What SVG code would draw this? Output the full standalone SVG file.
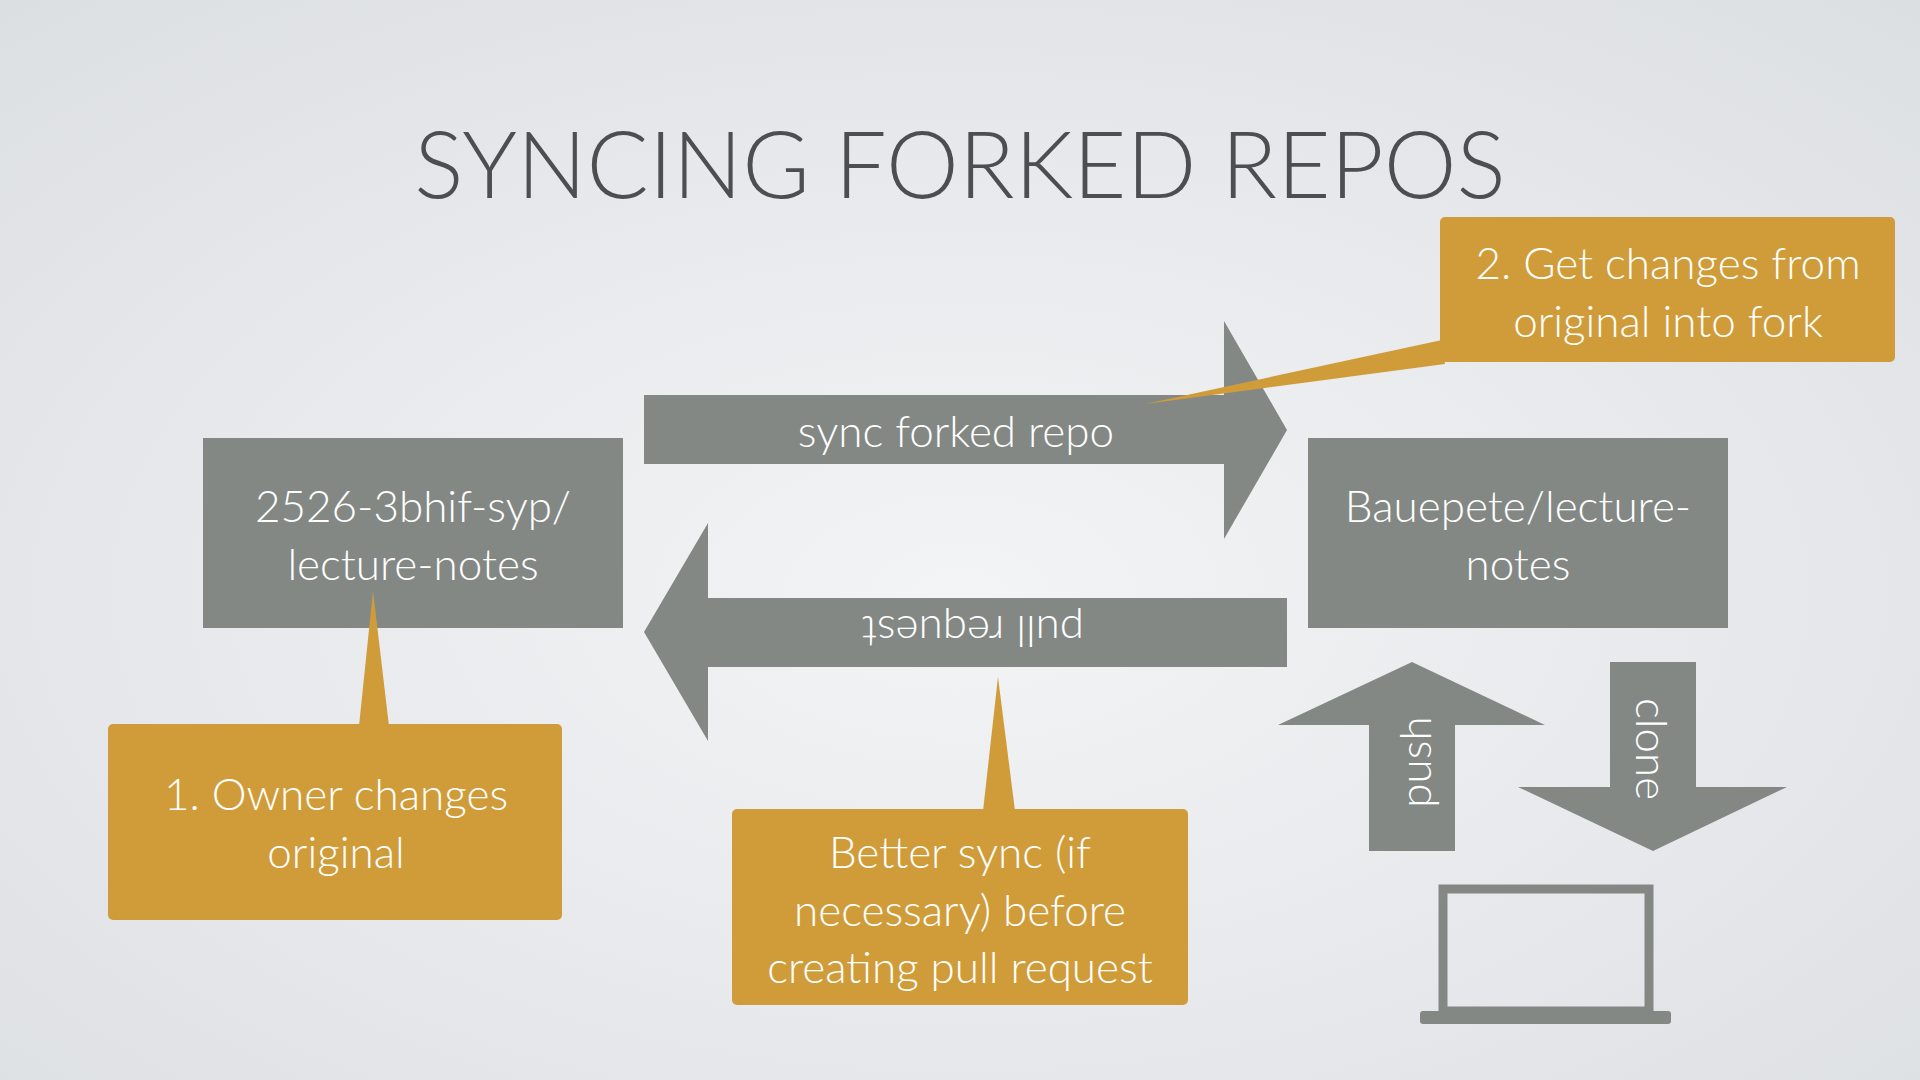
<svg xmlns="http://www.w3.org/2000/svg" width="1920" height="1080" viewBox="0 0 1920 1080">
<defs>
<radialGradient id="bg" cx="50%" cy="55%" r="75%">
<stop offset="0" stop-color="#f3f4f6"/><stop offset="1" stop-color="#dcdfe2"/>
</radialGradient>
<style>
.g{fill:#838885}.o{fill:#d09c3a}
.t{font-family:Lato,"Open Sans",sans-serif;font-weight:300;fill:#fff;font-size:44px;text-anchor:middle;dominant-baseline:central}
</style>
</defs>
<rect width="1920" height="1080" fill="url(#bg)"/>
<text x="960" y="162" font-family="Lato,'Open Sans',sans-serif" font-weight="300" font-size="92" fill="#4d4e50" text-anchor="middle" dominant-baseline="central">SYNCING FORKED REPOS</text>
<g id="connectors">
<polygon class="g" points="644,395 1224,395 1224,321 1287,430 1224,539 1224,464 644,464"/>
<text class="t" x="956" y="430">sync forked repo</text>
<polygon class="g" points="1287,598 708,598 708,523 644,632 708,741 708,667 1287,667"/>
<text class="t" transform="translate(973,633) rotate(180)">pull request</text>
<polygon class="g" points="1412,662 1545,725 1455,725 1455,851 1369,851 1369,725 1278,725"/>
<text class="t" transform="translate(1414,762) rotate(-90)">push</text>
<polygon class="g" points="1610,662 1696,662 1696,787 1787,787 1653,851 1518,787 1610,787"/>
<text class="t" transform="translate(1653,749) rotate(90)">clone</text>
</g>
<g id="original">
<rect class="g" x="203" y="438" width="420" height="190"/>
<text class="t" x="413" y="505">2526-3bhif-syp/</text>
<text class="t" x="413" y="563">lecture-notes</text>
</g>
<g id="fork">
<rect class="g" x="1308" y="438" width="420" height="190"/>
<text class="t" x="1518" y="505">Bauepete/lecture-</text>
<text class="t" x="1518" y="563">notes</text>
</g>
<g id="laptop">
<rect x="1443" y="889" width="206" height="122" fill="none" stroke="#838885" stroke-width="9"/>
<rect class="g" x="1420" y="1011" width="251" height="13" rx="3"/>
</g>
<g id="callout1">
<polygon class="o" points="359,726 373,591 389,726"/>
<rect class="o" x="108" y="724" width="454" height="196" rx="5"/>
<text class="t" x="336" y="793">1. Owner changes</text>
<text class="t" x="336" y="851">original</text>
</g>
<g id="callout2">
<polygon class="o" points="1145,404 1442,340 1445,364"/>
<rect class="o" x="1440" y="217" width="455" height="145" rx="5"/>
<text class="t" x="1668" y="262">2. Get changes from</text>
<text class="t" x="1668" y="320">original into fork</text>
</g>
<g id="callout3">
<polygon class="o" points="983,811 998,677 1015,811"/>
<rect class="o" x="732" y="809" width="456" height="196" rx="5"/>
<text class="t" x="960" y="851">Better sync (if</text>
<text class="t" x="960" y="909">necessary) before</text>
<text class="t" x="960" y="966">creating pull request</text>
</g>
</svg>
